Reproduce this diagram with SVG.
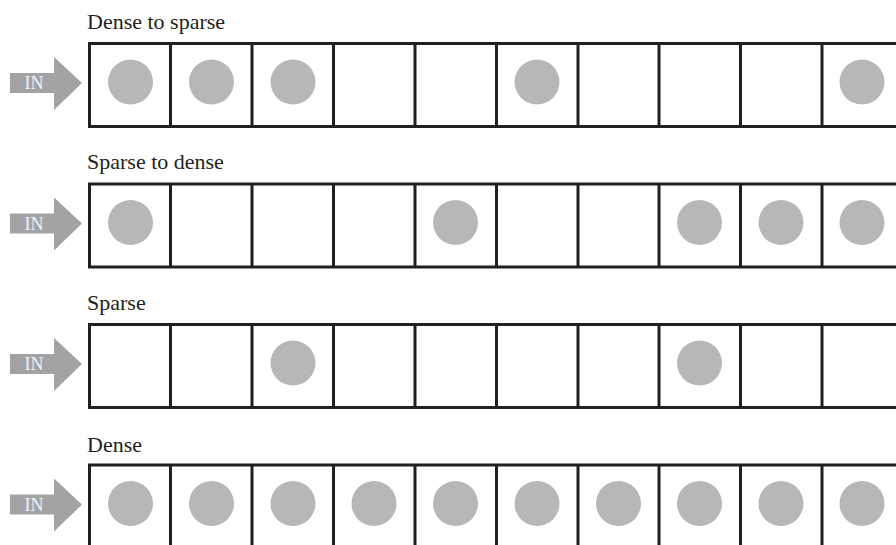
<svg xmlns="http://www.w3.org/2000/svg" width="896" height="545" viewBox="0 0 896 545">
  <style>
    .lbl { font-family: "Liberation Serif", "Times New Roman", serif; font-size: 22px; fill: #231f20; }
    .in { font-family: "Liberation Serif", "Times New Roman", serif; font-size: 18px; fill: #f2f2f2; }
    .cell { fill: #ffffff; stroke: #231f20; stroke-width: 3; }
    .dot { fill: #b6b7b9; }
    .arrow { fill: #a2a3a5; }
  </style>
  <defs>
    <g id="inArrow">
      <polygon class="arrow" points="10,-10 54,-10 54,-26 82,0 54,27 54,10 10,10"/>
      <text class="in" x="24.5" y="6">IN</text>
    </g>
    <g id="strip">
      <rect class="cell" x="89.5" y="0" width="830" height="83"/>
      <line class="cell" x1="170.5" y1="0" x2="170.5" y2="83"/>
      <line class="cell" x1="252" y1="0" x2="252" y2="83"/>
      <line class="cell" x1="333.5" y1="0" x2="333.5" y2="83"/>
      <line class="cell" x1="415" y1="0" x2="415" y2="83"/>
      <line class="cell" x1="496.5" y1="0" x2="496.5" y2="83"/>
      <line class="cell" x1="578" y1="0" x2="578" y2="83"/>
      <line class="cell" x1="659" y1="0" x2="659" y2="83"/>
      <line class="cell" x1="740.5" y1="0" x2="740.5" y2="83"/>
      <line class="cell" x1="822" y1="0" x2="822" y2="83"/>
    </g>
  </defs>

  <g id="row-dense-to-sparse" transform="translate(0,43.5)">
    <text class="lbl" x="87" y="-15">Dense to sparse</text>
    <use href="#strip"/>
    <use href="#inArrow" y="39.5"/>
    <circle class="dot" cx="130.5" cy="38.5" r="22.5"/>
    <circle class="dot" cx="211.5" cy="38.5" r="22.5"/>
    <circle class="dot" cx="293" cy="38.5" r="22.5"/>
    <circle class="dot" cx="537" cy="38.5" r="22.5"/>
    <circle class="dot" cx="862" cy="38.5" r="22.5"/>
  </g>

  <g id="row-sparse-to-dense" transform="translate(0,184)">
    <text class="lbl" x="87" y="-15">Sparse to dense</text>
    <use href="#strip"/>
    <use href="#inArrow" y="39.5"/>
    <circle class="dot" cx="130.5" cy="38.5" r="22.5"/>
    <circle class="dot" cx="455.5" cy="38.5" r="22.5"/>
    <circle class="dot" cx="699.5" cy="38.5" r="22.5"/>
    <circle class="dot" cx="781" cy="38.5" r="22.5"/>
    <circle class="dot" cx="862" cy="38.5" r="22.5"/>
  </g>

  <g id="row-sparse" transform="translate(0,324.5)">
    <text class="lbl" x="87" y="-14.5">Sparse</text>
    <use href="#strip"/>
    <use href="#inArrow" y="39.5"/>
    <circle class="dot" cx="293" cy="38.5" r="22.5"/>
    <circle class="dot" cx="699.5" cy="38.5" r="22.5"/>
  </g>

  <g id="row-dense" transform="translate(0,465)">
    <text class="lbl" x="87" y="-13">Dense</text>
    <use href="#strip"/>
    <use href="#inArrow" y="39.5"/>
    <circle class="dot" cx="130.5" cy="38.5" r="22.5"/>
    <circle class="dot" cx="211.5" cy="38.5" r="22.5"/>
    <circle class="dot" cx="293" cy="38.5" r="22.5"/>
    <circle class="dot" cx="374" cy="38.5" r="22.5"/>
    <circle class="dot" cx="455.5" cy="38.5" r="22.5"/>
    <circle class="dot" cx="537" cy="38.5" r="22.5"/>
    <circle class="dot" cx="618.5" cy="38.5" r="22.5"/>
    <circle class="dot" cx="699.5" cy="38.5" r="22.5"/>
    <circle class="dot" cx="781" cy="38.5" r="22.5"/>
    <circle class="dot" cx="862" cy="38.5" r="22.5"/>
  </g>

  <g id="connectors"></g>
</svg>
